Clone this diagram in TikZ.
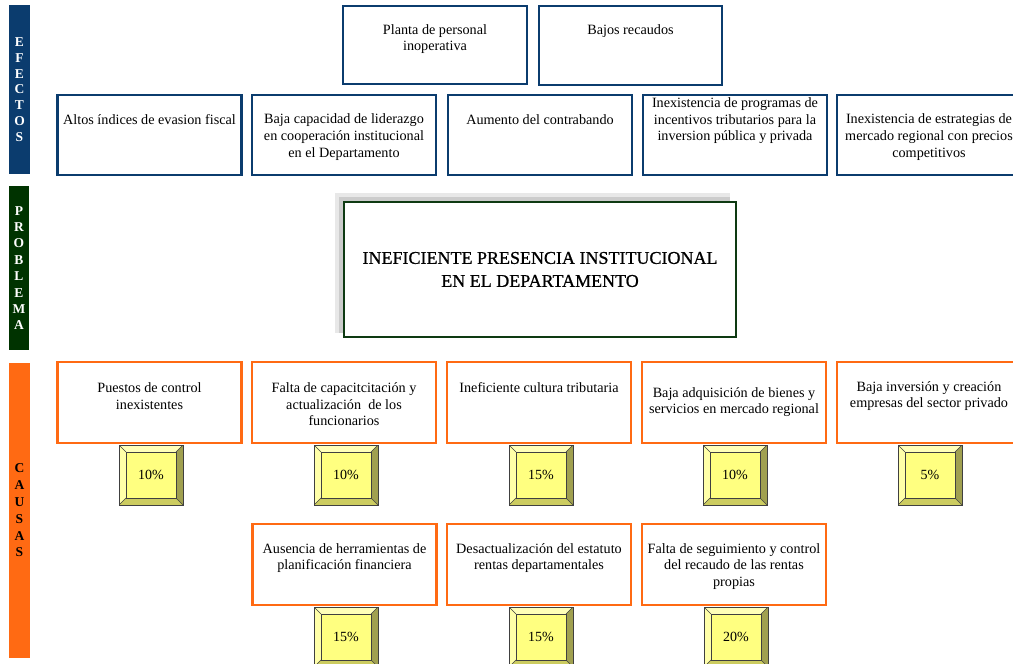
\documentclass[tikz,border=0pt]{standalone}
\usepackage{fontspec}
\setmainfont{Liberation Serif}
\newfontfamily\heavyserif[FakeBold=0.8]{Liberation Serif}
\definecolor{effblue}{HTML}{0B3C6E}
\definecolor{probgreen}{HTML}{0E3A12}
\definecolor{causeorange}{HTML}{FF6A13}
\definecolor{bandgreen}{HTML}{003300}
\definecolor{face}{HTML}{FFFF80}
\definecolor{bevtop}{HTML}{FFFFB8}
\definecolor{bevleft}{HTML}{FFFFA8}
\definecolor{bevright}{HTML}{A0A050}
\definecolor{bevbot}{HTML}{CCCC60}
\tikzset{
  ebox/.style={draw=effblue, line width=2.6pt, fill=white, inner sep=0, minimum width=184pt, minimum height=80pt},
  cbox/.style={draw=causeorange, line width=2.6pt, fill=white, inner sep=0, minimum width=184pt, minimum height=81pt},
  txt/.style={align=center, inner sep=0, font=\fontsize{14.2}{16.6}\selectfont},
  band/.style={inner sep=0, align=center, font=\bfseries\fontsize{13.5}{15.8}\selectfont},
  pct/.style={minimum width=64pt, minimum height=60pt, inner sep=0, draw=black!75, line width=0.7pt, fill=face,
    font=\fontsize{14}{15}\selectfont,
    path picture={
      \fill[bevtop] (path picture bounding box.north west) -- (path picture bounding box.north east)
        -- ([shift={(-7pt,-7pt)}]path picture bounding box.north east) -- ([shift={(7pt,-7pt)}]path picture bounding box.north west) -- cycle;
      \fill[bevleft] (path picture bounding box.north west) -- (path picture bounding box.south west)
        -- ([shift={(7pt,7pt)}]path picture bounding box.south west) -- ([shift={(7pt,-7pt)}]path picture bounding box.north west) -- cycle;
      \fill[bevright] (path picture bounding box.north east) -- (path picture bounding box.south east)
        -- ([shift={(-7pt,7pt)}]path picture bounding box.south east) -- ([shift={(-7pt,-7pt)}]path picture bounding box.north east) -- cycle;
      \fill[bevbot] (path picture bounding box.south west) -- (path picture bounding box.south east)
        -- ([shift={(-7pt,7pt)}]path picture bounding box.south east) -- ([shift={(7pt,7pt)}]path picture bounding box.south west) -- cycle;
      \draw[black!75, line width=0.7pt] ([shift={(7pt,-7pt)}]path picture bounding box.north west) rectangle ([shift={(-7pt,7pt)}]path picture bounding box.south east);
      \draw[black!75, line width=0.6pt] (path picture bounding box.north west) -- ([shift={(7pt,-7pt)}]path picture bounding box.north west)
        (path picture bounding box.north east) -- ([shift={(-7pt,-7pt)}]path picture bounding box.north east)
        (path picture bounding box.south west) -- ([shift={(7pt,7pt)}]path picture bounding box.south west)
        (path picture bounding box.south east) -- ([shift={(-7pt,7pt)}]path picture bounding box.south east);
    }}
}
\begin{document}
\begin{tikzpicture}[x=1pt, y=-1pt]
\useasboundingbox (0,0) rectangle (1013,664);
\clip (0,0) rectangle (1013,664);
\fill[white] (0,0) rectangle (1013,664);

% side bands
\node[band, fill=effblue, text=white, minimum width=21pt, minimum height=169pt] (bandE) at (19.5,89.5) {E\\F\\E\\C\\T\\O\\S};
\node[band, fill=bandgreen, text=white, minimum width=20pt, minimum height=164pt, font=\bfseries\fontsize{13.5}{16.4}\selectfont] (bandP) at (19,268) {P\\R\\O\\B\\L\\E\\M\\A};
\node[band, fill=causeorange, text=black, minimum width=21pt, minimum height=295pt, font=\bfseries\fontsize{13.5}{16.8}\selectfont] (bandC) at (19.5,510.5) {C\\A\\U\\S\\A\\S};

% effects top
\node[ebox, minimum height=78pt] (eA) at (435,45) {};
\node[txt] (teA) at (435,39) {Planta de personal\\inoperativa};
\node[ebox, minimum width=183pt, minimum height=79pt] (eB) at (630.5,45.5) {};
\node[txt] (teB) at (630.5,31) {Bajos recaudos};

% effects row 2
\node[ebox] (e1) at (149.5,135) {};
\node[txt] (te1) at (149.5,120) {Altos índices de evasion fiscal};
\node[ebox] (e2) at (344,135) {};
\node[txt] (te2) at (344,137) {Baja capacidad de liderazgo\\en cooperación institucional\\en el Departamento};
\node[ebox] (e3) at (540,135) {};
\node[txt] (te3) at (540,120) {Aumento del contrabando};
\node[ebox] (e4) at (735,135) {};
\node[txt] (te4) at (735,121) {Inexistencia de programas de\\incentivos tributarios para la\\inversion pública y privada};
\node[ebox] (e5) at (929,135) {};
\node[txt] (te5) at (929,137) {Inexistencia de estrategias de\\mercado regional con precios\\competitivos};

% problem
\fill[gray!18] (335,193) rectangle (730,333);
\fill[gray!40] (339,197) rectangle (730,333);
\node[draw=probgreen, line width=2.6pt, fill=white, minimum width=392pt, minimum height=135pt, inner sep=0] (prob) at (540,269.5) {};
\node[align=center, inner sep=0, font=\heavyserif\fontsize{18}{23}\selectfont] (tprob) at (540,269.5) {INEFICIENTE PRESENCIA INSTITUCIONAL\\EN EL DEPARTAMENTO};

% causes row 1
\node[cbox] (c1) at (149.5,402.5) {};
\node[txt] (tc1) at (149.5,396) {Puestos de control\\inexistentes};
\node[cbox] (c2) at (344,402.5) {};
\node[txt] (tc2) at (344,404.5) {Falta de capacitcitación y\\actualización\ \ de los\\funcionarios};
\node[cbox] (c3) at (539,402.5) {};
\node[txt] (tc3) at (539,388) {Ineficiente cultura tributaria};
\node[cbox] (c4) at (734,402.5) {};
\node[txt] (tc4) at (734,402) {Baja adquisición de bienes y\\servicios en mercado regional};
\node[cbox] (c5) at (929,402.5) {};
\node[txt] (tc5) at (929,396) {Baja inversión y creación\\empresas del sector privado};

\node[pct] (p1) at (151,475) {10\%};
\node[pct] (p2) at (346,475) {10\%};
\node[pct] (p3) at (541,475) {15\%};
\node[pct] (p4) at (735,475) {10\%};
\node[pct] (p5) at (930,475) {5\%};

% causes row 2
\node[cbox] (c6) at (344.5,564.5) {};
\node[txt] (tc6) at (344.5,558) {Ausencia de herramientas de\\planificación financiera};
\node[cbox] (c7) at (539,564.5) {};
\node[txt] (tc7) at (539,558) {Desactualización del estatuto\\rentas departamentales};
\node[cbox] (c8) at (734,564.5) {};
\node[txt] (tc8) at (734,566.5) {Falta de seguimiento y control\\del recaudo de las rentas\\propias};

\node[pct] (p6) at (346,637) {15\%};
\node[pct] (p7) at (541,637) {15\%};
\node[pct] (p8) at (736,637) {20\%};
\end{tikzpicture}
\end{document}
